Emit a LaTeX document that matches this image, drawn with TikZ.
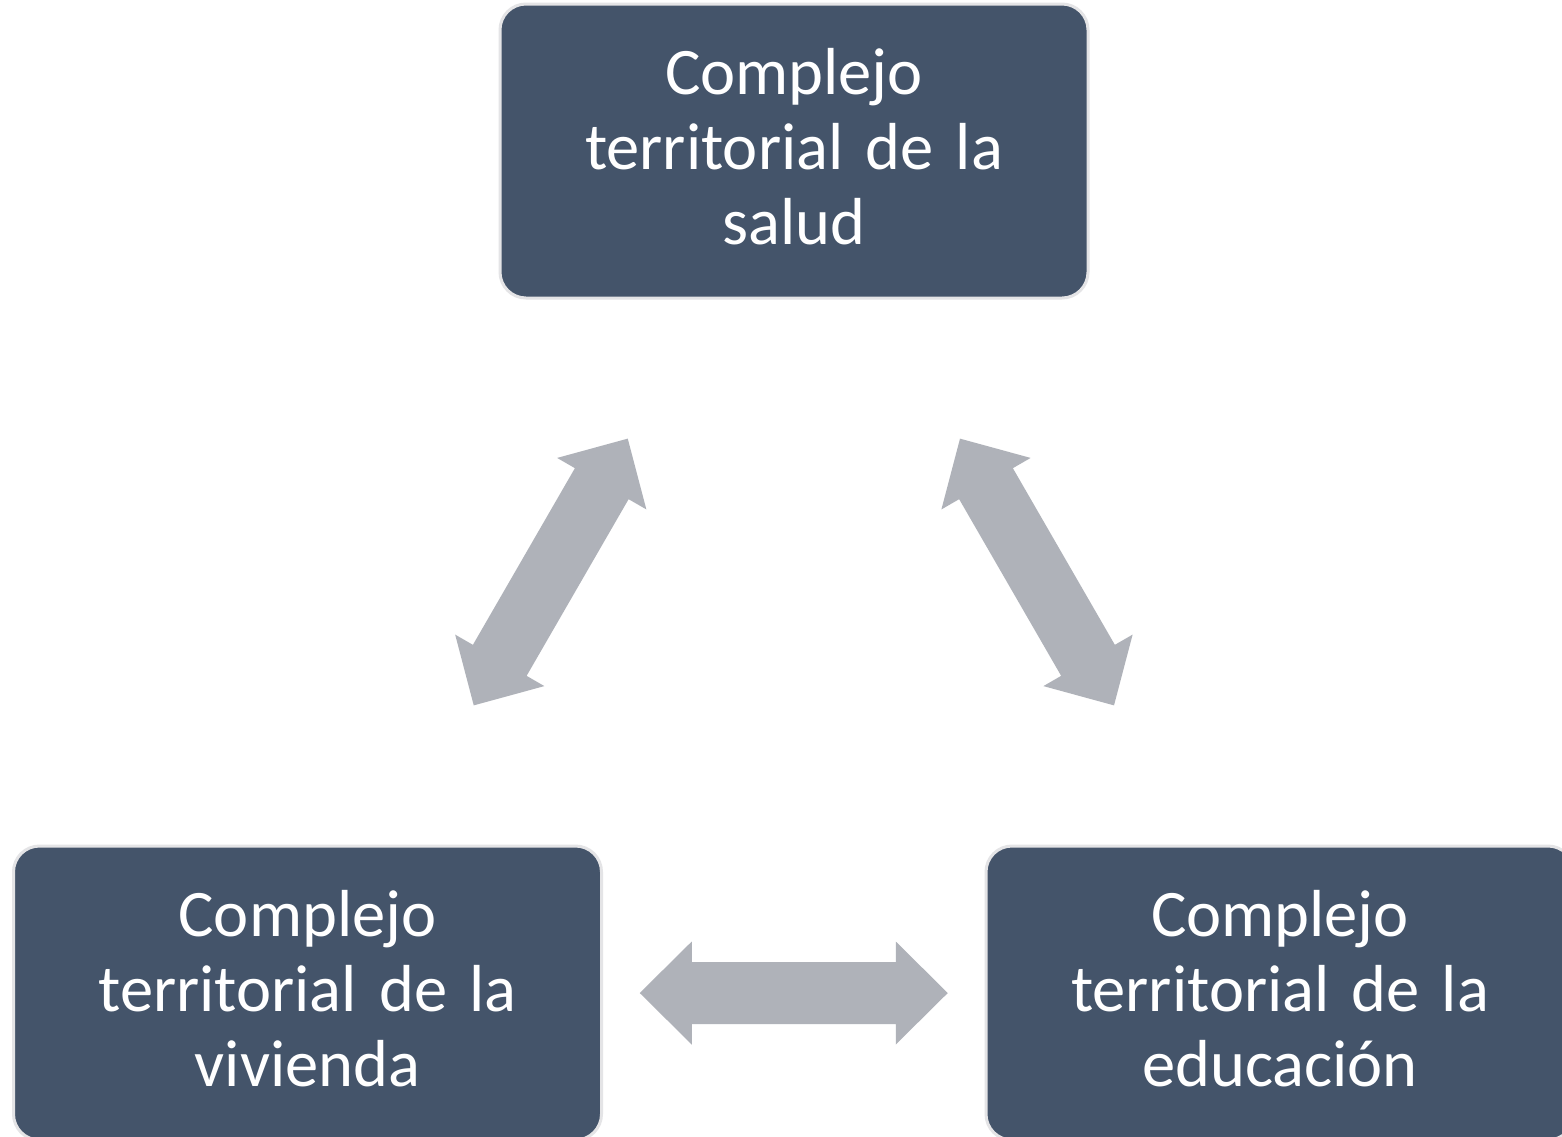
\documentclass[tikz,border=0pt]{standalone}
\usepackage{fontspec}
\setmainfont{Carlito}
\usetikzlibrary{calc}
\definecolor{boxfill}{HTML}{44546A}
\definecolor{boxline}{HTML}{E4E4E6}
\definecolor{arrowgray}{HTML}{AFB2B9}
\tikzset{
  cbox/.style={draw=boxline, line width=3pt, fill=boxfill, rounded corners=26pt,
    minimum width=588pt, minimum height=294pt, inner sep=0pt},
  ctext/.style={inner sep=0pt, text=white, align=center, text width=570pt,
    font=\fontsize{66.5}{75}\selectfont},
  blockarrow/.style={fill=arrowgray}
}
\newcommand{\dblarrowpath}{(-154,0) -- (-102,51.5) -- (-102,31) -- (102,31) -- (102,51.5) -- (154,0) -- (102,-51.5) -- (102,-31) -- (-102,-31) -- (-102,-51.5) -- cycle}
\begin{document}
\begin{tikzpicture}[x=1pt,y=1pt]
\useasboundingbox (0,0) rectangle (1562,-1136);
\clip (0,0) rectangle (1562,-1136);
\fill[white] (0,0) rectangle (1562,-1136);
\node[cbox] (s) at (794,-151) {};
\node[cbox] (v) at (307.5,-993) {};
\node[cbox] (e) at (1280,-993) {};
\node[ctext] (st) at ([yshift=4.5pt]s.center) {Complejo\\territorial de la\\salud};
\node[ctext] (vt) at ([yshift=4.5pt]v.center) {Complejo\\territorial de la\\vivienda};
\node[ctext] (et) at ([yshift=4.5pt]e.center) {Complejo\\territorial de la\\educación};
\begin{scope}[shift={($(v)!.5!(s)$)}, rotate=60]
  \fill[blockarrow] \dblarrowpath;
\end{scope}
\begin{scope}[shift={($(s)!.5!(e)$)}, rotate=-60]
  \fill[blockarrow] \dblarrowpath;
\end{scope}
\begin{scope}[shift={($(v)!.5!(e)$)}]
  \fill[blockarrow] \dblarrowpath;
\end{scope}
\end{tikzpicture}
\end{document}
